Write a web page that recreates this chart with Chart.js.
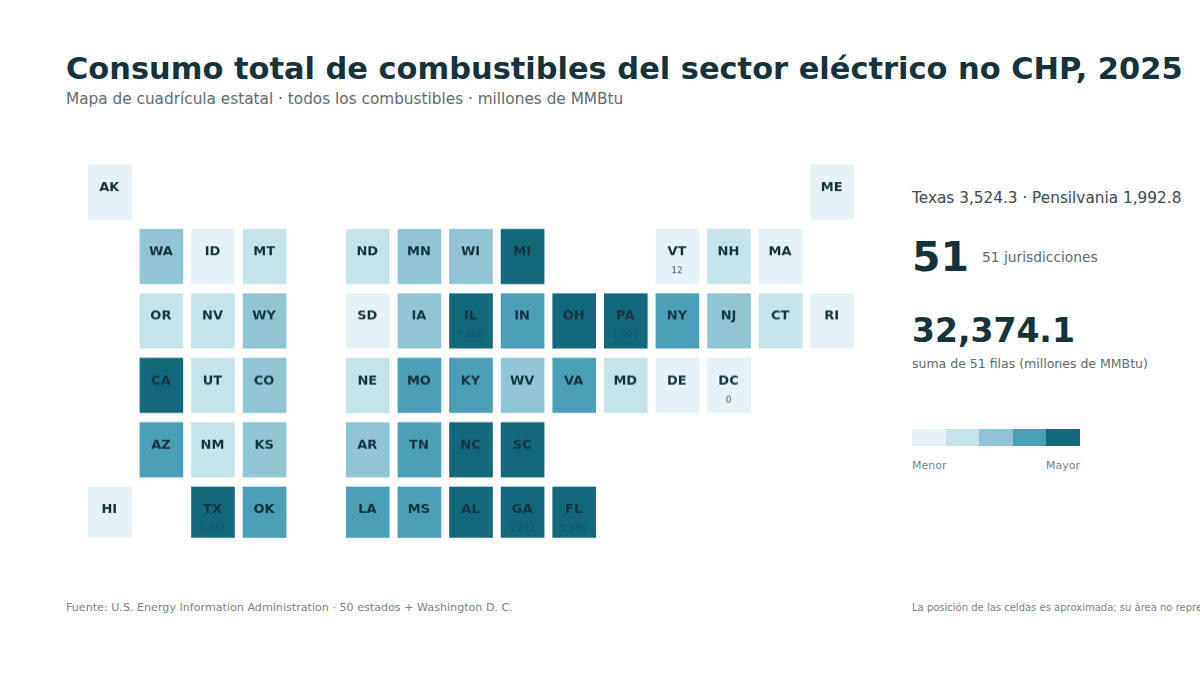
<!DOCTYPE html>
<html><head><meta charset="utf-8">
<script src="https://cdn.jsdelivr.net/npm/chart.js@4/dist/chart.umd.min.js"></script>
<style>
html,body{margin:0;padding:0;background:#fff;width:1200px;height:675px;overflow:hidden;font-family:"DejaVu Sans",sans-serif}
.t{position:absolute;white-space:nowrap;line-height:1}
#wrap{position:absolute;left:84px;top:160px;width:774px;height:385.5px}
.sw{position:absolute;top:429px;height:17px}
</style></head><body>
<div class="t" style="left:66px;top:53.5px;font-size:30.45px;font-weight:700;color:#16333b">Consumo total de combustibles del sector eléctrico no CHP, 2025</div>
<div class="t" style="left:66px;top:92px;font-size:15.3px;color:#5f6b6f">Mapa de cuadrícula estatal · todos los combustibles · millones de MMBtu</div>
<div id="wrap"><canvas id="c"></canvas></div>
<div class="t" style="left:912px;top:190.5px;font-size:15.3px;color:#3d4a4e">Texas 3,524.3 · Pensilvania 1,992.8</div>
<div class="t" style="left:912px;top:237px;font-size:41px;font-weight:700;color:#16333b">51</div>
<div class="t" style="left:982px;top:250.5px;font-size:13.8px;color:#5f6b6f">51 jurisdicciones</div>
<div class="t" style="left:912px;top:314px;font-size:33px;font-weight:700;color:#16333b">32,374.1</div>
<div class="t" style="left:912px;top:358px;font-size:12.5px;color:#5f6b6f">suma de 51 filas (millones de MMBtu)</div>
<div class="sw" style="left:912px;width:34px;background:#e6f2f5"></div>
<div class="sw" style="left:946px;width:33px;background:#c7e3ea"></div>
<div class="sw" style="left:979px;width:34px;background:#90c6d4"></div>
<div class="sw" style="left:1013px;width:33px;background:#4a9eb5"></div>
<div class="sw" style="left:1046px;width:34px;background:#13687c"></div>
<div class="t" style="left:912px;top:460px;font-size:11px;color:#7a8488">Menor</div>
<div class="t" style="right:120px;top:460px;font-size:11px;color:#7a8488">Mayor</div>
<div class="t" style="left:66px;top:602px;font-size:11.13px;color:#7a8488">Fuente: U.S. Energy Information Administration · 50 estados + Washington D. C.</div>
<div class="t" style="left:912px;top:602.5px;font-size:10px;color:#7a8488">La posición de las celdas es aproximada; su área no representa el consumo.</div>
<script>
const columns = [0,1,2,3,4,5,6,7,8,9,10,11,12,13,14];
const rows = [0,1,2,3,4,5];
const states = ["AK","ME","WA","ID","MT","ND","MN","WI","MI","VT","NH","MA","OR","NV","WY","SD","IA","IL","IN","OH","PA","NY","NJ","CT","RI","CA","UT","CO","NE","MO","KY","WV","VA","MD","DE","DC","AZ","NM","KS","AR","TN","NC","SC","HI","TX","OK","LA","MS","AL","GA","FL"];
const stateCols = [0,14,1,2,3,5,6,7,8,11,12,13,1,2,3,5,6,7,8,9,10,11,12,13,14,1,2,3,5,6,7,8,9,10,11,12,1,2,3,5,6,7,8,0,2,3,5,6,7,8,9];
const stateRows = [0,0,1,1,1,1,1,1,1,1,1,1,2,2,2,2,2,2,2,2,2,2,2,2,2,3,3,3,3,3,3,3,3,3,3,3,4,4,4,4,4,4,4,5,5,5,5,5,5,5,5];
const values = [38,62,420,58,150,160,390,410,1280,12,95,60,170,165,400,52,380,1868,820,1500,1992.8,760,410,150,30,1500,190,440,190,780,800,430,800,140,25,0,760,190,420,440,800,1300,1220,60,3524.3,800,890,814,1220,1223,1985];
const labelled = ["VT","DC","TX","IL","PA","GA","FL"];
const binLimits = [66,200,450,900];
const binColors = ["#e6f2f5","#c7e3ea","#90c6d4","#4a9eb5","#13687c"];
const colorFor = v => binColors[binLimits.filter(l => v >= l).length];
const topInset = 0.07, cellSpan = 0.857, lastSpan = 0.795;
const datasets = rows.map(r => {
  const idx = states.map((s,i)=>i).filter(i => stateRows[i] === r);
  return {
    label: "Fila " + r,
    data: idx.map(i => ({x: stateCols[i], y: [r + topInset, r + topInset + (r === 5 ? lastSpan : cellSpan)], state: states[i], value: values[i]})),
    backgroundColor: idx.map(i => colorFor(values[i])),
    borderWidth: 0, borderSkipped: false,
    barPercentage: 0.845, categoryPercentage: 1, grouped: false
  };
});
const cellText = {
  id: "cellText",
  afterDatasetsDraw(chart) {
    const g = chart.ctx;
    g.save(); g.textAlign = "center"; g.textBaseline = "alphabetic"; g.fillStyle = "#16333b";
    chart.data.datasets.forEach((ds, di) => {
      chart.getDatasetMeta(di).data.forEach((el, i) => {
        const d = ds.data[i], top = Math.min(el.y, el.base);
        g.globalAlpha = 1;
        g.font = "700 13px 'DejaVu Sans'";
        g.fillText(d.state, el.x - 0.5, top + 26.5);
        if (labelled.includes(d.state)) {
          g.globalAlpha = d.value > 900 ? 0.3 : 0.8;
          g.font = "9px 'DejaVu Sans'";
          g.fillText(Math.round(d.value).toLocaleString("en-US"), el.x - 0.5, top + 44.5);
        }
      });
    });
    g.restore();
  }
};
new Chart(document.getElementById("c"), {
  type: "bar",
  data: {labels: columns, datasets},
  options: {
    responsive: true, maintainAspectRatio: false, animation: false,
    layout: {padding: 0},
    plugins: {legend: {display: false}, title: {display: false}, tooltip: {enabled: false}},
    scales: {
      x: {type: "category", display: false, offset: true},
      y: {type: "linear", display: false, min: 0, max: rows.length, reverse: true}
    }
  },
  plugins: [cellText]
});
</script>
</body></html>
